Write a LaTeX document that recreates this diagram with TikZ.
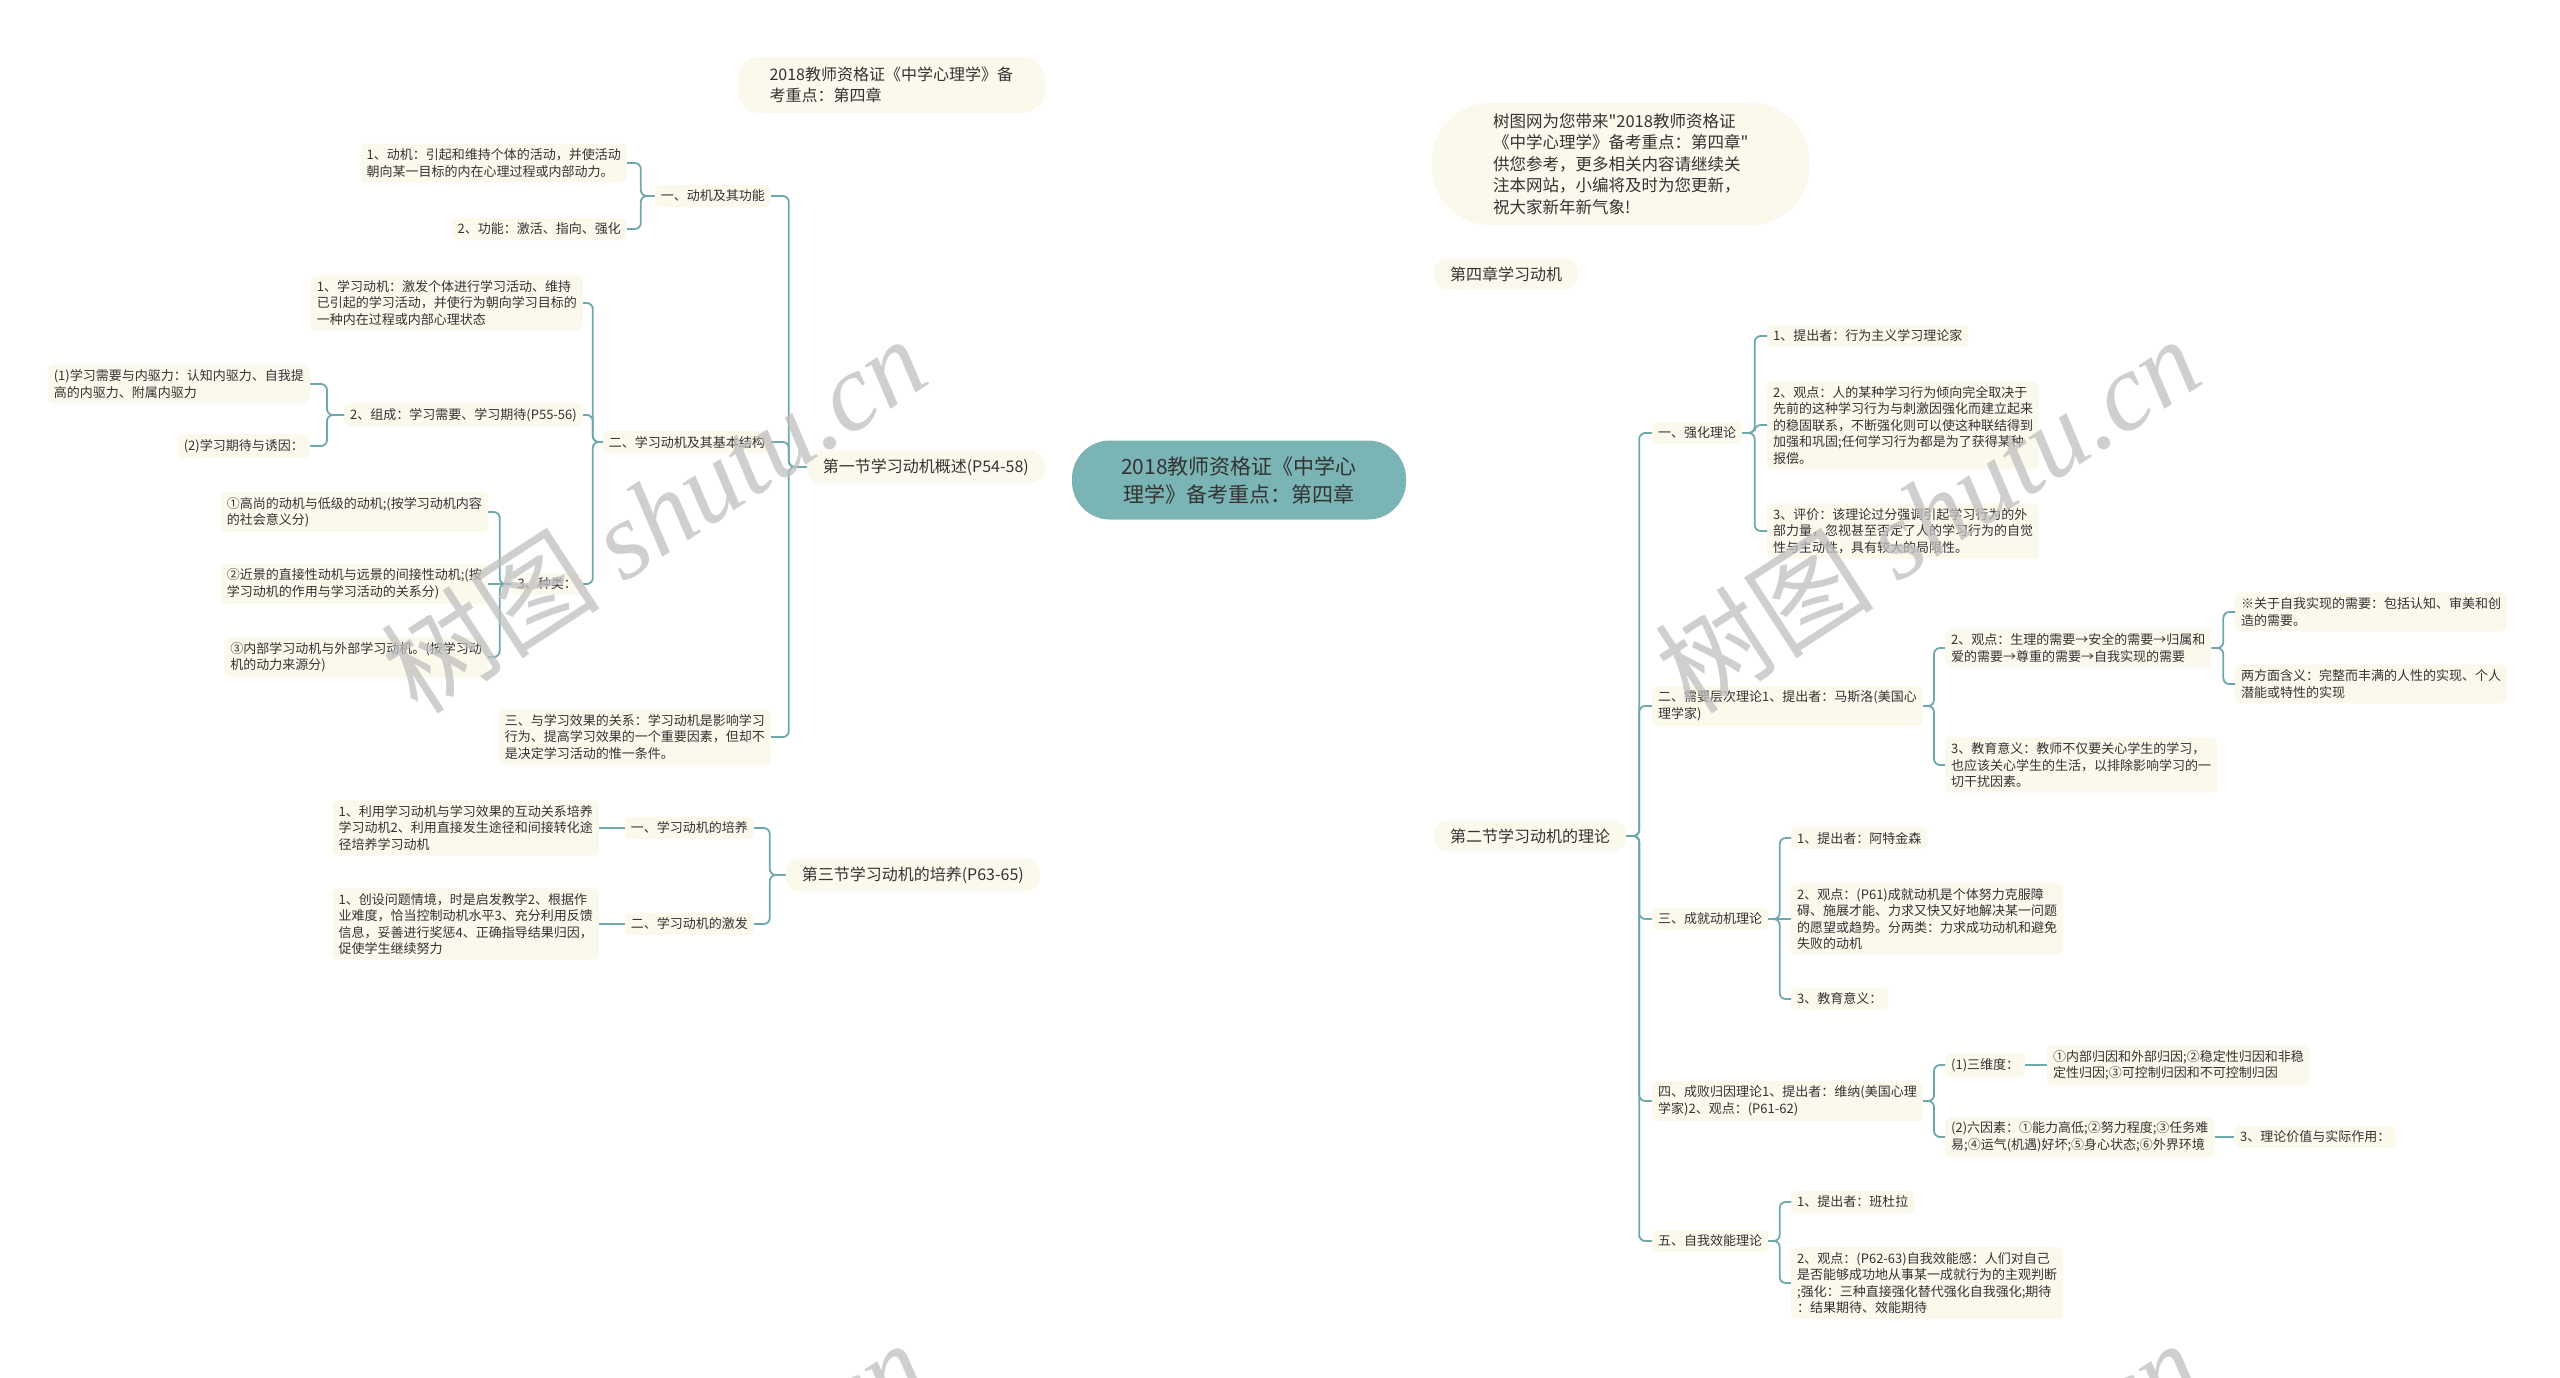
\documentclass[tikz,border=0pt]{standalone}
\usepackage{fontspec}
\setmainfont{Noto Sans CJK SC}
\newfontfamily\rawfont{Noto Sans CJK SC}
\newfontfamily\wmfont{Liberation Serif}
\usepackage{tikz}
\usetikzlibrary{positioning,calc,backgrounds}
\usepackage{xcolor}
\definecolor{ink}{HTML}{333333}
\definecolor{cream}{HTML}{FBF8EC}
\definecolor{hubfill}{HTML}{7BB4B5}
\definecolor{wire}{HTML}{6FA8AA}
\newcommand{\linkL}[2]{\draw[conn] let \p1=(#1.west), \p2=(#2.east) in (\p1) -- ({0.5*\x1+0.5*\x2},\y1) |- (\p2);}
\newcommand{\linkR}[2]{\draw[conn] let \p1=(#1.east), \p2=(#2.west) in (\p1) -- ({0.5*\x1+0.5*\x2},\y1) |- (\p2);}

\begin{document}
\begin{tikzpicture}[x=1pt, y=-1pt,
    leaf/.style={fill=cream, rounded corners=5pt, inner xsep=6pt, inner ysep=5pt, align=left, text=ink, font=\fontsize{13pt}{16.5pt}\selectfont},
    topic/.style={fill=cream, rounded corners=14pt, inner xsep=16pt, inner ysep=8pt, align=left, text=ink, font=\fontsize{16pt}{21pt}\selectfont},
    hub/.style={fill=hubfill, rounded corners=38pt, minimum width=334pt, minimum height=79pt, align=center, text=ink, font=\fontsize{21pt}{28pt}\selectfont},
    conn/.style={draw=wire, line width=1.8pt, rounded corners=6pt},
    wmark/.style={text=black!25, text opacity=0.75, rotate=33, font=\fontsize{110pt}{110pt}\selectfont}]
  \useasboundingbox[fill=white] (0,0) rectangle (2560,1377);

  % root
  \node[hub] (root) at (1239,480) {2018教师资格证《中学心\\理学》备考重点：第四章};

  % main topics
  \node[topic, anchor=east, minimum height=56pt, minimum width=307pt, rounded corners=22pt] (exam) at (1045,85) {2018教师资格证《中学心理学》备\\考重点：第四章};
  \node[topic, anchor=east] (sec1) at (1045,467) {第一节学习动机概述(P54-58)};
  \node[topic, anchor=east] (sec3) at (1040,875) {第三节学习动机的培养(P63-65)};
  \node[topic, anchor=west, rounded corners=58pt, minimum width=377pt, minimum height=122pt, font=\rawfont\fontsize{16.5pt}{21.6pt}\selectfont] (intro) at (1432,164) {树图网为您带来"2018教师资格证\\《中学心理学》备考重点：第四章"\\供您参考，更多相关内容请继续关\\注本网站，小编将及时为您更新，\\祝大家新年新气象!};
  \node[topic, anchor=west] (ch4) at (1434,274) {第四章学习动机};
  \node[topic, anchor=west] (sec2) at (1434,836) {第二节学习动机的理论};

  % section 1
  \node[leaf, anchor=east] (motive) at (771,196) {一、动机及其功能};
  \node[leaf, anchor=east] (struct) at (771,442) {二、学习动机及其基本结构};
  \node[leaf, anchor=east] (effect) at (771,737) {三、与学习效果的关系：学习动机是影响学习\\行为、提高学习效果的一个重要因素，但却不\\是决定学习活动的惟一条件。};
  \node[leaf, anchor=east] (motdef) at (627,163) {1、动机：引起和维持个体的活动，并使活动\\朝向某一目标的内在心理过程或内部动力。};
  \node[leaf, anchor=east] (motfun) at (627,229) {2、功能：激活、指向、强化};
  \node[leaf, anchor=east] (lmdef) at (583,303) {1、学习动机：激发个体进行学习活动、维持\\已引起的学习活动，并使行为朝向学习目标的\\一种内在过程或内部心理状态};
  \node[leaf, anchor=east] (lmpart) at (583,415) {2、组成：学习需要、学习期待(P55-56)};
  \node[leaf, anchor=east] (lmkind) at (583,584) {3、种类：};
  \node[leaf, anchor=east] (need) at (310,384) {(1)学习需要与内驱力：认知内驱力、自我提\\高的内驱力、附属内驱力};
  \node[leaf, anchor=east] (expect) at (310,446) {(2)学习期待与诱因：};
  \node[leaf, anchor=east] (kindA) at (488,512) {①高尚的动机与低级的动机;(按学习动机内容\\的社会意义分)};
  \node[leaf, anchor=east] (kindB) at (488,584) {②近景的直接性动机与远景的间接性动机;(按\\学习动机的作用与学习活动的关系分)};
  \node[leaf, anchor=east] (kindC) at (488,657) {③内部学习动机与外部学习动机。(按学习动\\机的动力来源分)};

  % section 3
  \node[leaf, anchor=east] (foster) at (754,828) {一、学习动机的培养};
  \node[leaf, anchor=east] (arouse) at (754,924) {二、学习动机的激发};
  \node[leaf, anchor=east] (fosterway) at (599,828) {1、利用学习动机与学习效果的互动关系培养\\学习动机2、利用直接发生途径和间接转化途\\径培养学习动机};
  \node[leaf, anchor=east] (arouseway) at (599,924) {1、创设问题情境，时是启发教学2、根据作\\业难度，恰当控制动机水平3、充分利用反馈\\信息，妥善进行奖惩4、正确指导结果归因，\\促使学生继续努力};

  % section 2
  \node[leaf, anchor=west] (reinf) at (1652,433) {一、强化理论};
  \node[leaf, anchor=west] (maslow) at (1652,706) {二、需要层次理论1、提出者：马斯洛(美国心\\理学家)};
  \node[leaf, anchor=west] (achieve) at (1652,919) {三、成就动机理论};
  \node[leaf, anchor=west] (attrib) at (1652,1101) {四、成败归因理论1、提出者：维纳(美国心理\\学家)2、观点：(P61-62)};
  \node[leaf, anchor=west] (selfeff) at (1652,1241) {五、自我效能理论};
  \node[leaf, anchor=west] (reinfA) at (1767,336) {1、提出者：行为主义学习理论家};
  \node[leaf, anchor=west] (reinfB) at (1767,425) {2、观点：人的某种学习行为倾向完全取决于\\先前的这种学习行为与刺激因强化而建立起来\\的稳固联系，不断强化则可以使这种联结得到\\加强和巩固;任何学习行为都是为了获得某种\\报偿。};
  \node[leaf, anchor=west] (reinfC) at (1767,531) {3、评价：该理论过分强调引起学习行为的外\\部力量，忽视甚至否定了人的学习行为的自觉\\性与主动性，具有较大的局限性。};
  \node[leaf, anchor=west] (maslowA) at (1945,648) {2、观点：生理的需要→安全的需要→归属和\\爱的需要→尊重的需要→自我实现的需要};
  \node[leaf, anchor=west] (maslowB) at (1945,765) {3、教育意义：教师不仅要关心学生的学习，\\也应该关心学生的生活，以排除影响学习的一\\切干扰因素。};
  \node[leaf, anchor=west] (selfreal) at (2235,612) {※关于自我实现的需要：包括认知、审美和创\\造的需要。};
  \node[leaf, anchor=west] (twosense) at (2235,684) {两方面含义：完整而丰满的人性的实现、个人\\潜能或特性的实现};
  \node[leaf, anchor=west] (achA) at (1791,838) {1、提出者：阿特金森};
  \node[leaf, anchor=west] (achB) at (1791,919) {2、观点：(P61)成就动机是个体努力克服障\\碍、施展才能、力求又快又好地解决某一问题\\的愿望或趋势。分两类：力求成功动机和避免\\失败的动机};
  \node[leaf, anchor=west] (achC) at (1791,999) {3、教育意义：};
  \node[leaf, anchor=west] (dims) at (1945,1065) {(1)三维度：};
  \node[leaf, anchor=west] (six) at (1945,1137) {(2)六因素：①能力高低;②努力程度;③任务难\\易;④运气(机遇)好坏;⑤身心状态;⑥外界环境};
  \node[leaf, anchor=west] (dimsA) at (2047,1065) {①内部归因和外部归因;②稳定性归因和非稳\\定性归因;③可控制归因和不可控制归因};
  \node[leaf, anchor=west] (value) at (2234,1137) {3、理论价值与实际作用：};
  \node[leaf, anchor=west] (effA) at (1791,1202) {1、提出者：班杜拉};
  \node[leaf, anchor=west] (effB) at (1791,1283) {2、观点：(P62-63)自我效能感：人们对自己\\是否能够成功地从事某一成就行为的主观判断\\;强化：三种直接强化替代强化自我强化;期待\\：结果期待、效能期待};

  \begin{scope}[on background layer]
    % root curves
    \draw[conn] (root.center) .. controls (1239,180) and (1160,85) .. (exam.east);
    \draw[conn] (root.center) .. controls (1239,260) and (1300,164) .. (intro.west);
    \draw[conn] (root.center) .. controls (1239,330) and (1330,274) .. (ch4.west);
    \draw[conn] (sec1.east) -- (sec1.east -| root.center);
    \draw[conn] (root.center) .. controls (1239,780) and (1150,875) .. (sec3.east);
    \draw[conn] (root.center) .. controls (1239,740) and (1330,836) .. (sec2.west);
  \end{scope}

  % left brackets
  \linkL{sec1}{motive} \linkL{sec1}{struct} \linkL{sec1}{effect}
  \linkL{motive}{motdef} \linkL{motive}{motfun}
  \linkL{struct}{lmdef} \linkL{struct}{lmpart} \linkL{struct}{lmkind}
  \linkL{lmpart}{need} \linkL{lmpart}{expect}
  \linkL{lmkind}{kindA} \linkL{lmkind}{kindC}
  \draw[conn] (lmkind.west) -- (kindB.east);
  \linkL{sec3}{foster} \linkL{sec3}{arouse}
  \draw[conn] (foster.west) -- (fosterway.east);
  \draw[conn] (arouse.west) -- (arouseway.east);

  % right brackets
  \foreach \kid in {reinf, maslow, achieve, attrib, selfeff} {\linkR{sec2}{\kid}}
  \foreach \kid in {reinfA, reinfB, reinfC} {\linkR{reinf}{\kid}}
  \linkR{maslow}{maslowA} \linkR{maslow}{maslowB}
  \linkR{maslowA}{selfreal} \linkR{maslowA}{twosense}
  \linkR{achieve}{achA} \linkR{achieve}{achC}
  \draw[conn] (achieve.east) -- (achB.west);
  \linkR{attrib}{dims} \linkR{attrib}{six}
  \draw[conn] (dims.east) -- (dimsA.west);
  \draw[conn] (six.east) -- (value.west);
  \linkR{selfeff}{effA} \linkR{selfeff}{effB}

  % watermarks
  \begin{scope}
    \clip (0,0) rectangle (2560,1377);
    \foreach \wx/\wy/\wn in {653/514/a, 1927/514/b, 653/1518/c, 1927/1518/d}
      \node[wmark] (wm\wn) at (\wx,\wy) {树图 {\wmfont\itshape shutu.cn}};
  \end{scope}
\end{tikzpicture}
\end{document}
